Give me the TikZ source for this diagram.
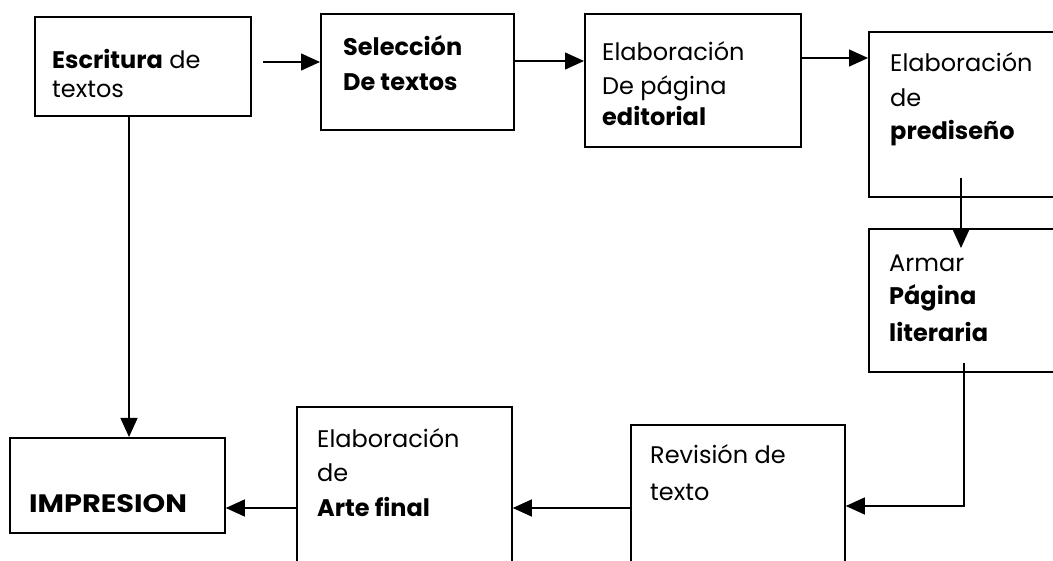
\documentclass[tikz,border=0pt]{standalone}
\usepackage{fontspec}
\setmainfont{Poppins}
\usetikzlibrary{arrows.meta}
\begin{document}
\begin{tikzpicture}[x=1pt,y=-1pt,
  box/.style={draw, line width=1.8pt, inner sep=0pt, anchor=north west},
  conn/.style={line width=1.3pt, -{Triangle[length=19pt,width=17pt]}},
  lbl/.style={anchor=base west, inner sep=0pt, font=\fontsize{24}{28}\selectfont},
]
\useasboundingbox (0,0) rectangle (1053,561);
\clip (0,0) rectangle (1053,561);
% boxes
\node[box, minimum width=216pt, minimum height=99pt]  (b1) at (34,16) {};
\node[box, minimum width=193pt, minimum height=116pt] (b2) at (320,13) {};
\node[box, minimum width=216pt, minimum height=133pt] (b3) at (584,13) {};
\node[box, minimum width=230pt, minimum height=165pt] (b4) at (868,31) {};
\node[box, minimum width=230pt, minimum height=143pt] (b5) at (868,228) {};
\node[box, minimum width=214pt, minimum height=200pt] (b6) at (630,424) {};
\node[box, minimum width=215pt, minimum height=200pt] (b7) at (296,406) {};
\node[box, minimum width=215pt, minimum height=95pt]  (b8) at (9,437) {};
% texts
\node[lbl] (t1a) at (52,69) {\textbf{Escritura} de};
\node[lbl] (t1b) at (52,98) {textos};
\node[lbl] (t2a) at (343,56) {\textbf{Selección}};
\node[lbl] (t2b) at (343,91) {\textbf{De textos}};
\node[lbl] (t3a) at (602,61) {Elaboración};
\node[lbl] (t3b) at (602,95) {De página};
\node[lbl] (t3c) at (602,126) {\textbf{editorial}};
\node[lbl] (t4a) at (890,72) {Elaboración};
\node[lbl] (t4b) at (890,107) {de};
\node[lbl] (t4c) at (890,140) {\textbf{prediseño}};
\node[lbl] (t5a) at (889,272) {Armar};
\node[lbl] (t5b) at (889,305) {\textbf{Página}};
\node[lbl] (t5c) at (889,342) {\textbf{literaria}};
\node[lbl] (t6a) at (650,463) {Revisión de};
\node[lbl] (t6b) at (650,500) {texto};
\node[lbl] (t7a) at (317,447) {Elaboración};
\node[lbl] (t7b) at (317,482) {de};
\node[lbl] (t7c) at (317,516) {\textbf{Arte final}};
\node[lbl] (t8a) at (29,512) {\scalebox{1.2}[1.05]{\textbf{IMPRESION}}};
% free ends
\coordinate (s1) at (263,62);
\coordinate (s4) at (961,178);
\coordinate (e4) at (961,248);
\coordinate (s5) at (964,363);
% connectors
\draw[conn] (s1) -- (b2.west |- s1);
\draw[conn] (b2.east |- 0,61) -- (b3.west |- 0,61);
\draw[conn] (b3.east |- 0,58) -- (b4.west |- 0,58);
\draw[conn] (s4) -- (e4);
\draw[conn] (s5) |- (b6.east |- 0,506);
\draw[conn] (b6.west |- 0,508) -- (b7.east |- 0,508);
\draw[conn] (b7.west |- 0,508) -- (b8.east |- 0,508);
\draw[conn] (b1.south -| 129,0) -- (b8.north -| 129,0);
\end{tikzpicture}
\end{document}
